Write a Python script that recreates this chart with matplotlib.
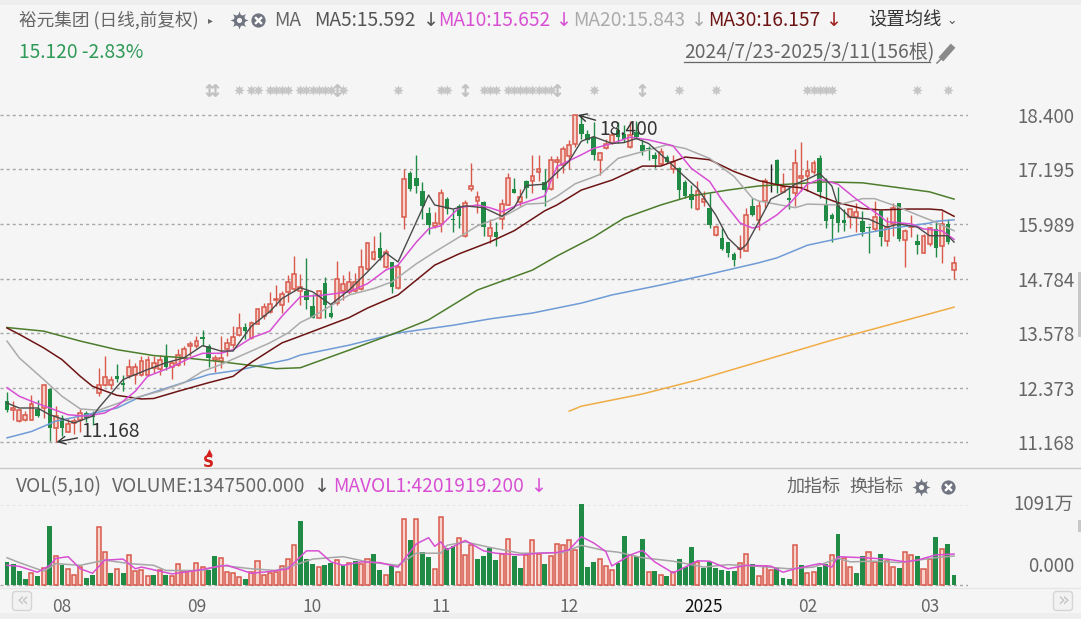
import matplotlib
matplotlib.use("Agg")
import matplotlib.pyplot as plt
from matplotlib.patches import FancyBboxPatch, Rectangle

plt.rcParams['font.family'] = ['Noto Sans CJK SC', 'DejaVu Sans']

# daily candles
opens = [12.07, 11.87, 11.63, 11.65, 11.66, 11.89, 11.92, 12.34, 11.48, 11.70,
         11.40, 11.58, 11.66, 11.82, 11.79, 12.25, 12.42, 12.42, 12.63, 12.47,
         12.62, 12.66, 12.66, 12.66, 12.81, 12.78, 13.08, 12.83, 12.88, 13.03,
         13.29, 13.29, 13.50, 13.30, 12.99, 12.96, 13.23, 13.32, 13.53, 13.72,
         13.47, 13.77, 13.95, 14.04, 14.30, 14.20, 14.49, 14.56, 14.51, 14.51,
         14.18, 13.92, 14.69, 14.02, 14.24, 14.51, 14.49, 14.51, 14.56, 15.00,
         15.22, 15.46, 15.04, 15.15, 14.58, 16.15, 17.12, 17.01, 16.73, 16.23,
         15.95, 16.00, 16.54, 16.11, 16.38, 15.72, 16.76, 16.49, 16.48, 15.72,
         15.81, 16.10, 16.41, 16.76, 16.48, 16.94, 16.93, 17.14, 16.92, 16.76,
         17.37, 17.30, 17.50, 17.75, 18.19, 17.99, 17.92, 17.41, 17.66, 17.77,
         18.07, 17.99, 17.69, 18.03, 17.74, 17.68, 17.52, 17.31, 17.48, 17.21,
         17.22, 16.91, 16.65, 16.32, 16.47, 16.35, 15.74, 15.69, 15.59, 15.32,
         15.43, 15.40, 16.38, 16.08, 16.50, 16.90, 17.41, 16.70, 16.57, 16.68,
         17.00, 17.05, 17.14, 17.45, 16.43, 16.19, 16.45, 16.08, 16.14, 16.14,
         16.06, 15.93, 15.88, 16.28, 15.62, 15.99, 16.45, 15.64, 15.92, 15.62,
         15.35, 15.55, 15.88, 15.50, 15.99, 14.97]
closes = [11.885, 11.92, 11.87, 11.77, 12.00, 11.75, 12.42, 11.48, 11.74, 11.48,
          11.57, 11.63, 11.80, 11.70, 11.72, 12.42, 12.60, 12.55, 12.57, 12.42,
          12.82, 12.82, 12.97, 12.99, 12.92, 12.99, 12.83, 12.92, 13.10, 13.23,
          13.33, 13.40, 13.44, 13.03, 13.03, 13.03, 13.36, 13.50, 13.70, 13.63,
          13.81, 14.10, 14.16, 14.23, 14.32, 14.45, 14.71, 14.88, 14.60, 14.31,
          13.92, 14.50, 14.20, 13.94, 14.78, 14.67, 14.71, 14.71, 15.04, 15.57,
          15.37, 15.24, 15.37, 14.60, 15.04, 16.98, 16.77, 16.83, 16.38, 15.97,
          16.02, 16.68, 16.32, 16.08, 16.17, 16.45, 16.84, 16.59, 15.92, 15.90,
          15.70, 16.43, 17.01, 16.68, 16.59, 16.79, 17.05, 17.21, 16.74, 17.40,
          17.40, 17.65, 17.74, 18.40, 17.97, 17.85, 17.52, 17.57, 17.75, 17.96,
          17.92, 17.88, 17.96, 17.92, 17.61, 17.64, 17.42, 17.59, 17.37, 17.37,
          16.74, 16.60, 16.52, 16.72, 16.55, 15.96, 15.92, 15.43, 15.35, 15.20,
          15.46, 16.19, 16.18, 16.38, 16.94, 16.90, 16.87, 16.81, 16.52, 17.34,
          17.04, 17.16, 17.34, 16.70, 16.06, 16.11, 16.01, 16.01, 16.32, 16.25,
          15.82, 15.89, 16.14, 15.70, 15.92, 16.35, 15.65, 15.83, 15.95, 15.53,
          15.73, 15.89, 15.46, 15.99, 15.59, 15.12]
highs = [12.27, 12.07, 11.90, 11.85, 12.20, 12.10, 12.46, 12.36, 11.97, 11.77,
         11.70, 11.70, 11.90, 11.85, 11.85, 12.81, 13.08, 12.62, 12.90, 12.64,
         13.00, 12.92, 13.07, 13.08, 13.08, 13.10, 13.33, 12.96, 13.23, 13.30,
         13.41, 13.51, 13.64, 13.33, 13.10, 13.51, 13.47, 13.73, 14.01, 13.81,
         13.84, 14.14, 14.25, 14.49, 14.63, 14.50, 14.87, 15.28, 14.88, 15.24,
         14.45, 14.53, 14.82, 14.20, 15.17, 14.86, 14.96, 14.91, 15.43, 15.59,
         15.73, 15.81, 15.43, 15.16, 15.11, 17.21, 17.16, 17.52, 16.92, 16.36,
         16.26, 16.77, 16.59, 16.33, 16.43, 16.52, 17.33, 16.72, 16.50, 16.11,
         16.04, 16.54, 17.12, 17.00, 16.76, 16.96, 17.52, 17.52, 17.21, 17.49,
         17.50, 17.71, 17.84, 18.40, 18.40, 18.07, 18.25, 17.59, 17.88, 18.00,
         18.25, 18.18, 18.27, 18.27, 17.88, 17.72, 17.59, 17.68, 17.52, 17.52,
         17.26, 16.96, 16.85, 16.93, 16.72, 16.67, 15.96, 15.91, 15.60, 15.38,
         15.75, 16.35, 16.56, 16.49, 17.00, 17.32, 17.43, 17.12, 16.83, 17.65,
         17.80, 17.41, 17.41, 17.52, 17.00, 16.24, 16.81, 16.32, 16.33, 16.46,
         16.28, 15.95, 16.50, 16.32, 16.14, 16.45, 16.46, 15.88, 16.19, 15.77,
         15.77, 15.92, 16.04, 16.28, 16.10, 15.28]
lows = [11.83, 11.66, 11.60, 11.63, 11.65, 11.72, 11.70, 11.18, 11.168, 11.29,
        11.38, 11.35, 11.40, 11.60, 11.55, 12.18, 12.40, 12.33, 12.49, 12.29,
        12.59, 12.46, 12.62, 12.62, 12.70, 12.66, 12.76, 12.56, 12.85, 12.86,
        13.08, 13.25, 13.29, 12.83, 12.72, 12.80, 13.07, 13.25, 13.51, 13.45,
        13.45, 13.77, 13.88, 14.02, 14.17, 14.02, 14.27, 14.50, 14.20, 14.10,
        13.90, 13.90, 13.90, 13.90, 14.20, 14.30, 14.45, 14.49, 14.53, 14.98,
        15.19, 15.19, 15.02, 14.47, 14.56, 15.88, 16.73, 16.67, 16.11, 15.77,
        15.89, 15.81, 16.22, 15.81, 15.90, 15.71, 16.72, 16.23, 15.73, 15.57,
        15.51, 15.88, 16.40, 16.67, 16.38, 16.57, 16.68, 16.94, 16.38, 16.74,
        17.00, 17.11, 17.21, 17.70, 17.88, 17.77, 17.41, 17.08, 17.64, 17.75,
        17.77, 17.81, 17.68, 17.88, 17.52, 17.41, 17.22, 17.30, 17.33, 17.11,
        16.55, 16.57, 16.34, 16.30, 16.38, 15.90, 15.73, 15.42, 15.25, 15.07,
        15.24, 15.40, 16.16, 15.86, 16.35, 16.70, 16.68, 16.70, 16.32, 16.39,
        16.72, 16.72, 17.09, 16.57, 15.89, 15.59, 15.82, 15.84, 15.90, 15.81,
        15.72, 15.35, 15.84, 15.50, 15.51, 15.72, 15.62, 15.04, 15.70, 15.33,
        15.35, 15.51, 15.26, 15.13, 15.55, 14.78]

# volume in 万, r = hollow red bar, g = solid green bar
volumes = [314, 281, 187, 80, 159, 117, 234, 796, 388, 276, 220, 140, 243, 98, 136, 791,
           454, 159, 220, 159, 407, 187, 197, 117, 140, 197, 136, 126, 281, 192, 192, 304,
           243, 197, 393, 370, 183, 159, 112, 80, 173, 323, 140, 164, 173, 257, 346, 538,
           861, 351, 290, 243, 267, 304, 337, 276, 304, 323, 281, 346, 417, 206, 140, 253,
           183, 899, 608, 899, 454, 374, 220, 917, 501, 524, 641, 407, 538, 351, 393, 501,
           337, 417, 618, 393, 229, 407, 604, 417, 290, 398, 562, 538, 604, 477, 1091, 243,
           314, 351, 262, 206, 304, 665, 407, 388, 622, 183, 187, 140, 117, 173, 351, 243,
           519, 314, 229, 314, 229, 206, 187, 187, 304, 417, 290, 117, 253, 206, 229, 98,
           75, 538, 267, 159, 183, 239, 285, 407, 688, 370, 243, 164, 393, 454, 314, 417,
           328, 243, 229, 454, 412, 393, 220, 351, 646, 491, 562, 135]
vol_dir = ("ggggrgrgrg" "rrrggrrgrg" "rrrrgrgrrr" "rrrggrrrrg" "rrrrrrrrgg" "grggrgrgrr"
           "ggrgrrgrgg" "rrggrrrggg" "grrggrrrgr" "rrrrgggrrr" "ggrggrgrgr" "gggrgggggg"
           "rrgrrrgggr" "grrggrgrrg" "grrgrrgrrg" "rrgrgg")

# moving averages, sampled at the bars where they could be read
ma5_idx = [0, 2, 5, 7, 11, 14, 15, 19, 23, 26, 29, 32, 35, 37, 40, 43, 45, 48, 50, 53, 56, 59, 62, 64, 69, 70,
           73, 75, 78, 81, 83, 85, 88, 92, 94, 96, 99, 101, 103, 105, 108, 110, 113, 116, 118, 120, 121, 123,
           125, 127, 129, 131, 133, 135, 136, 138, 141, 144, 146, 149, 151, 154, 155]
ma5_val = [12.03, 11.92, 11.92, 11.77, 11.59, 11.74, 11.92, 12.55, 12.77, 12.92, 13.03, 13.30, 13.18, 13.18, 13.73,
           14.05, 14.34, 14.58, 14.49, 14.21, 14.53, 14.93, 15.35, 15.15, 16.63, 16.41, 16.32, 16.39, 16.35, 16.16,
           16.35, 16.84, 16.87, 17.38, 17.82, 17.92, 17.77, 17.79, 17.88, 17.77, 17.41, 17.15, 16.78, 16.19, 15.68,
           15.42, 15.53, 16.03, 16.54, 16.68, 16.87, 16.98, 17.11, 16.83, 16.39, 16.14, 16.10, 15.92, 15.99, 15.92,
           15.73, 15.73, 15.59]
ma10_idx = [0, 2, 4, 10, 13, 16, 18, 21, 23, 27, 30, 32, 35, 37, 40, 43, 45, 48, 52, 56, 59, 62, 64, 67, 69, 71,
            74, 77, 79, 81, 84, 88, 90, 94, 96, 99, 102, 105, 109, 112, 115, 117, 120, 122, 123, 126, 128, 131,
            133, 136, 139, 143, 144, 148, 150, 153, 155]
ma10_val = [12.37, 12.18, 12.07, 11.77, 11.74, 11.81, 11.96, 12.29, 12.62, 12.83, 13.03, 13.13, 13.13, 13.21, 13.47,
            13.62, 13.95, 14.38, 14.42, 14.49, 14.67, 14.97, 15.08, 15.59, 15.88, 15.95, 16.35, 16.41, 16.35, 16.26,
            16.43, 16.61, 17.26, 17.52, 17.66, 17.77, 17.91, 17.85, 17.72, 17.22, 16.93, 16.52, 16.01, 15.90, 15.93,
            16.19, 16.43, 16.87, 16.98, 16.87, 16.54, 16.16, 16.04, 15.99, 15.88, 15.84, 15.65]
ma20_idx = [0, 2, 6, 9, 12, 15, 16, 20, 25, 29, 32, 35, 37, 43, 46, 48, 50, 56, 60, 63, 67, 70, 74, 77, 80, 82,
            85, 88, 90, 93, 97, 100, 104, 108, 111, 115, 119, 122, 123, 129, 131, 136, 140, 142, 145, 149, 152, 155]
ma20_val = [13.40, 13.03, 12.55, 12.18, 11.90, 11.87, 11.92, 12.11, 12.29, 12.48, 12.73, 12.88, 13.00, 13.36, 13.58,
            13.81, 13.94, 14.42, 14.56, 14.71, 15.11, 15.37, 15.70, 15.95, 16.10, 16.21, 16.43, 16.45, 16.60, 16.88,
            17.08, 17.44, 17.59, 17.74, 17.66, 17.44, 17.04, 16.56, 16.50, 16.35, 16.43, 16.41, 16.55, 16.55, 16.41,
            16.19, 16.03, 15.84]
ma30_idx = [0, 2, 6, 9, 12, 14, 18, 22, 24, 28, 33, 37, 40, 45, 48, 56, 59, 64, 67, 70, 74, 79, 83, 88, 90, 94,
            99, 104, 107, 111, 115, 119, 123, 127, 130, 133, 136, 140, 143, 147, 151, 153, 155]
ma30_val = [13.69, 13.55, 13.25, 12.99, 12.62, 12.40, 12.20, 12.12, 12.13, 12.29, 12.48, 12.62, 12.93, 13.36, 13.51,
            13.92, 14.13, 14.42, 14.75, 15.08, 15.33, 15.59, 15.84, 16.28, 16.41, 16.74, 16.96, 17.27, 17.27, 17.47,
            17.41, 17.15, 16.95, 16.83, 16.79, 16.61, 16.46, 16.33, 16.30, 16.32, 16.32, 16.30, 16.16]
ma60_idx = [0, 6, 12, 18, 24, 29, 34, 40, 44, 48, 56, 64, 69, 77, 86, 90, 96, 101, 107, 112, 118, 123, 134, 140,
            145, 151, 155]
ma60_val = [13.70, 13.62, 13.40, 13.21, 13.08, 13.03, 12.96, 12.86, 12.79, 12.81, 13.20, 13.60, 13.87, 14.53, 14.97,
            15.28, 15.70, 16.12, 16.41, 16.61, 16.74, 16.83, 16.92, 16.90, 16.81, 16.70, 16.54]
ma120_idx = [0, 4, 8, 13, 18, 22, 27, 33, 38, 42, 46, 48, 56, 64, 73, 79, 86, 94, 99, 107, 115, 123, 126, 131,
             139, 145, 151, 152, 155]
ma120_val = [11.26, 11.40, 11.63, 11.77, 11.92, 12.18, 12.40, 12.66, 12.76, 12.88, 12.99, 13.09, 13.31, 13.58, 13.75,
             13.89, 14.02, 14.24, 14.42, 14.64, 14.88, 15.13, 15.24, 15.52, 15.75, 15.90, 16.01, 16.05, 16.08]
ma250_idx = [92, 94, 104, 113, 125, 135, 143, 155]
ma250_val = [11.85, 11.96, 12.23, 12.54, 13.02, 13.42, 13.71, 14.15]

mavol1_idx = [0, 2, 5, 7, 8, 10, 12, 14, 16, 19, 21, 22, 24, 27, 31, 34, 36, 40, 43, 46, 49, 51, 53, 55, 58, 61,
              64, 67, 69, 70, 71, 72, 75, 78, 80, 84, 87, 90, 92, 94, 96, 98, 99, 102, 104, 106, 109, 111, 113,
              115, 118, 121, 125, 127, 129, 133, 135, 136, 140, 144, 147, 149, 152, 155]
mavol1_val = [267, 253, 173, 267, 360, 384, 220, 159, 337, 351, 220, 243, 206, 150, 197, 243, 267, 159, 183, 220,
              463, 463, 314, 267, 314, 304, 243, 557, 641, 524, 585, 477, 604, 463, 431, 407, 431, 440, 477, 655,
              571, 454, 257, 407, 468, 314, 164, 243, 328, 323, 220, 267, 257, 173, 220, 290, 243, 384, 370, 351,
              314, 337, 407, 420]
mavol2_idx = [0, 2, 6, 8, 12, 16, 20, 24, 26, 32, 35, 40, 44, 47, 50, 55, 59, 64, 67, 71, 72, 75, 79, 84, 87, 91,
              94, 98, 100, 104, 109, 112, 114, 118, 123, 128, 132, 136, 138, 142, 146, 152, 155]
mavol2_val = [370, 304, 187, 290, 267, 337, 290, 267, 197, 197, 267, 220, 197, 267, 351, 384, 314, 267, 431, 431,
              538, 585, 510, 431, 431, 440, 538, 463, 445, 370, 323, 276, 243, 276, 253, 220, 243, 360, 314, 323,
              304, 370, 393]

price_ticks = [18.400, 17.195, 15.989, 14.784, 13.578, 12.373, 11.168]
month_pos = [9, 31, 50, 71, 92, 114, 131, 151]
month_labels = ['08', '09', '10', '11', '12', '2025', '02', '03']

# gray event marks above the candles
event_stars = [38, 40, 41, 43, 44, 45, 46, 48, 49, 50, 51, 52, 53, 55, 64, 71, 72, 78, 79, 80, 82, 83, 84, 85, 86,
               87, 88, 89, 96, 110, 116, 131, 132, 133, 134, 135, 149, 154]
event_arrows = [33, 34, 54, 75, 90, 104]
sell_bar = 33

W, H = 1081, 619
UP_EDGE = '#d8594c'
UP_FILL = '#f8d3cb'
DOWN = '#1f8b45'
GRID = '#a8a8a8'
TEXT = '#666666'
BG = '#f5f5f5'
SIZE = 13.8

fig = plt.figure(figsize=(W / 100, H / 100), dpi=100, facecolor=BG)


def px_axes(left, top, right, bottom, **kw):
    return fig.add_axes([left / W, 1 - bottom / H, (right - left) / W, (bottom - top) / H], **kw)


x_lim = (-7 / 6.11, (968 - 7) / 6.11)
bars = range(len(opens))

ax = px_axes(0, 78, 968, 468, facecolor='none')
ax.set_xlim(*x_lim)
ax.set_ylim(18.4 - (468 - 115) * 0.022116, 18.4 + (115 - 78) * 0.022116)

for i in bars:
    o, c = opens[i], closes[i]
    if o == c:
        ax.vlines(i, lows[i], highs[i], color='#222222', lw=1, zorder=2)
    elif c > o:
        ax.vlines(i, lows[i], highs[i], color=UP_EDGE, lw=1, zorder=2)
        ax.bar(i, c - o, bottom=o, width=0.62, facecolor=UP_FILL, edgecolor=UP_EDGE, lw=1.1, zorder=3)
    else:
        ax.vlines(i, lows[i], highs[i], color=DOWN, lw=1, zorder=2)
        ax.bar(i, o - c, bottom=c, width=0.72, color=DOWN, lw=0, zorder=3)

ax.plot(ma250_idx, ma250_val, color='#f0ad45', lw=1.1, zorder=4)
ax.plot(ma120_idx, ma120_val, color='#6f9bd6', lw=1.1, zorder=4)
ax.plot(ma60_idx, ma60_val, color='#4d7d2c', lw=1.1, zorder=4)
ax.plot(ma30_idx, ma30_val, color='#6d1414', lw=1.1, zorder=4)
ax.plot(ma20_idx, ma20_val, color='#ababab', lw=1.1, zorder=4)
ax.plot(ma10_idx, ma10_val, color='#d84fd4', lw=1.1, zorder=5)
ax.plot(ma5_idx, ma5_val, color='#4a4a4a', lw=1.0, zorder=5)

mark_y = 18.4 + 25 * 0.022116
ax.scatter(event_stars, [mark_y] * len(event_stars), marker=(8, 1, 0), s=60, color='#c6c6c6', lw=0, zorder=2)
ax.scatter(event_stars, [mark_y] * len(event_stars), s=18, color='#c6c6c6', lw=0, zorder=2)
ax.scatter(event_arrows, [mark_y] * len(event_arrows), marker='$↕$', s=80, color='#c0c0c0', lw=0.4, zorder=2)

ax.annotate('11.168', xy=(8.1, 11.168), xytext=(12.2, 11.40), fontsize=SIZE, color='#333333', va='center',
            arrowprops=dict(arrowstyle='->', color='#333333', lw=1, shrinkA=1, shrinkB=0), zorder=6)
ax.annotate('18.400', xy=(93.4, 18.40), xytext=(97, 18.07), fontsize=SIZE, color='#333333', va='center',
            arrowprops=dict(arrowstyle='->', color='#333333', lw=1, shrinkA=1, shrinkB=0), zorder=6)
ax.text(sell_bar, 10.72, 'S', color='#d4201c', fontsize=11, fontweight='bold', ha='center', va='center', family='DejaVu Sans')
ax.scatter([sell_bar], [10.95], marker='^', s=22, color='#d4201c', lw=0)

ax.set_yticks(price_ticks)
ax.set_yticklabels(['%.3f' % v for v in price_ticks])
ax.yaxis.tick_right()
ax.tick_params(axis='y', length=0, pad=35.5, labelsize=13.5, labelcolor=TEXT)
ax.set_xticks([])
ax.grid(axis='y', color=GRID, lw=1, dashes=(2.2, 2.2), zorder=1)
for s in ax.spines.values():
    s.set_visible(False)

vax = px_axes(0, 504.5, 968, 587, facecolor='none')
vax.set_xlim(*x_lim)
vax.set_ylim(-27, 1091)
for i in bars:
    if vol_dir[i] == 'r':
        vax.bar(i, volumes[i], width=0.66, facecolor=UP_FILL, edgecolor=UP_EDGE, lw=1.1, zorder=2, clip_on=False)
    else:
        vax.bar(i, volumes[i], width=0.8, color=DOWN, lw=0, zorder=2, clip_on=False)
vax.plot(mavol2_idx, mavol2_val, color='#a6a6a6', lw=1.1, zorder=3)
vax.plot(mavol1_idx, mavol1_val, color='#d84fd4', lw=1.1, zorder=4)
vax.set_yticks([0, 1091])
vax.set_yticklabels([])
vax.tick_params(axis='y', length=0)
vax.grid(axis='y', color=GRID, lw=1, dashes=(2.2, 2.2), zorder=1)
vax.set_xticks(month_pos)
vax.set_xticklabels(month_labels)
vax.tick_params(axis='x', length=0, pad=8, labelsize=12.5, labelcolor=TEXT)
vax.get_xticklabels()[5].set_color('#111111')
for s in vax.spines.values():
    s.set_visible(False)

# header, icons and buttons, placed in pixels
ui = fig.add_axes([0, 0, 1, 1], facecolor='none')
ui.set_xlim(0, W)
ui.set_ylim(H, 0)
ui.axis('off')
ui.add_patch(Rectangle((0, 0), W, 4.5, color='#eeeeee', lw=0))
ui.add_patch(Rectangle((0, 613), W, 6, color='#eeeeee', lw=0))
ui.plot([0, 1081], [468, 468], color='#c9c9c9', lw=1)
ui.plot([0, 1081], [587.5, 587.5], color='#e6e6e6', lw=1)


def label(x, y, s, color=TEXT, size=SIZE, **kw):
    return ui.text(x, y, s, color=color, fontsize=size, va='center', ha=kw.pop('ha', 'left'), **kw)


def gear_close(x_gear, x_close, y):
    ui.scatter([x_gear], [y], marker=(8, 1, 0), s=170, color='#6f7480', lw=0)
    ui.scatter([x_gear], [y], s=70, color='#6f7480', lw=0)
    ui.scatter([x_gear], [y], s=14, color=BG, lw=0)
    ui.scatter([x_close], [y], s=105, color='#6f7480', lw=0)
    ui.scatter([x_close], [y], marker='x', s=24, color='white', lw=1.7)


label(19, 20, '裕元集团 (日线,前复权)', size=12.7)
label(208, 20, '▸', size=7, family='DejaVu Sans')
gear_close(239, 258, 20)
label(274, 20, 'MA')
label(314, 20, 'MA5:15.592', color='#555555')
label(422, 20, '↓', color='#555555', family='DejaVu Sans')
label(438, 20, 'MA10:15.652', color='#d84fd4')
label(555, 20, '↓', color='#d84fd4', family='DejaVu Sans')
label(573, 20, 'MA20:15.843', color='#ababab')
label(690, 20, '↓', color='#ababab', family='DejaVu Sans')
label(708, 20, 'MA30:16.157', color='#6d1414')
label(825, 20, '↓', color='#a02020', family='DejaVu Sans')
label(868, 20, '设置均线', color='#333333', size=13.2)
label(946, 20, '⌄', color='#555555', size=9, family='DejaVu Sans')
label(19, 53, '15.120 -2.83%', color='#2f9a58')
label(684, 53, '2024/7/23-2025/3/11(156根)', color='#666666')
ui.plot([684, 930], [62, 62], color='#666666', lw=0.9)
ui.plot([937, 944], [63, 56], color='#8a8a8a', lw=1.2)
ui.plot([943, 951], [57, 48], color='#8a8a8a', lw=4.5)

label(16, 487, 'VOL(5,10)')
label(112, 487, 'VOLUME:1347500.000')
label(313, 487, '↓', color='#555555', family='DejaVu Sans')
label(333, 487, 'MAVOL1:4201919.200', color='#d84fd4')
label(530, 487, '↓', color='#d84fd4', family='DejaVu Sans')
label(787, 487, '加指标', size=13)
label(849, 487, '换指标', size=13)
gear_close(921, 948, 487)
label(1074, 504, '1091万', ha='right', size=13.5)
label(1074, 566, '0.000', ha='right', size=13.5)

for bx, mark in ((22, '«'), (1063, '»')):
    ui.add_patch(FancyBboxPatch((bx - 8, 593), 16, 16, boxstyle='round,pad=1.5,rounding_size=3',
                                facecolor='#f2f2f2', edgecolor='#d5d5d5', lw=1))
    ui.text(bx, 600, mark, color='#c4c4c4', fontsize=14, ha='center', va='center', family='DejaVu Sans')

ui.add_patch(Rectangle((1078, 272), 3, 65, color='#c8c8c8', lw=0))
ui.add_patch(Rectangle((1078, 520), 3, 12, color='#c8c8c8', lw=0))

fig.savefig('out.png', dpi=100, facecolor=BG)
